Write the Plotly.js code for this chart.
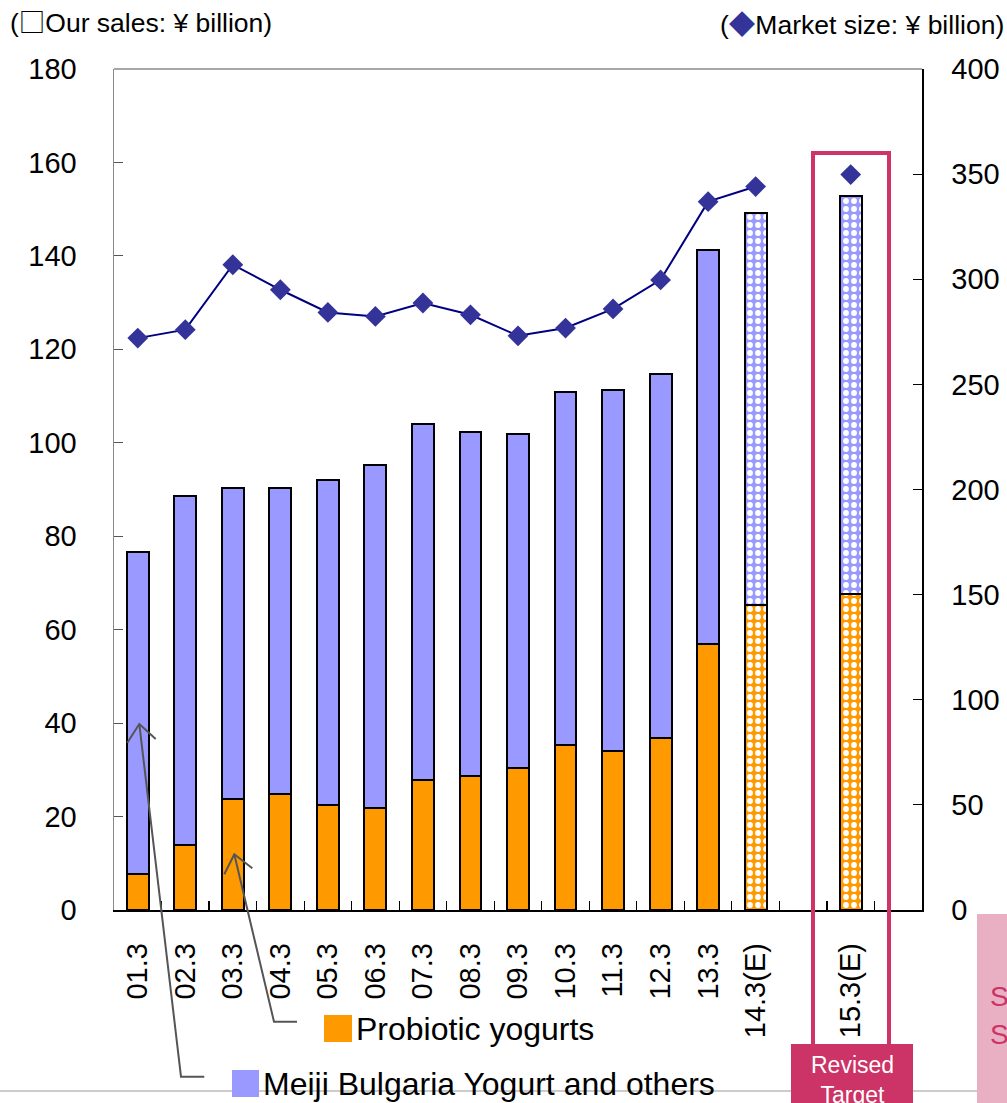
<!DOCTYPE html>
<html>
<head>
<meta charset="utf-8">
<script src="https://cdn.plot.ly/plotly-3.0.1.min.js"></script>
<style>html,body{margin:0;padding:0;background:#fff;}#chart{width:1007px;height:1103px;}</style>
</head>
<body>
<div id="chart"></div>
<script>
// ---- data ----
const categories = ['01.3','02.3','03.3','04.3','05.3','06.3','07.3','08.3','09.3','10.3','11.3','12.3','13.3','14.3(E)','15.3(E)'];
const axisSlots = ['01.3','02.3','03.3','04.3','05.3','06.3','07.3','08.3','09.3','10.3','11.3','12.3','13.3','14.3(E)',' ','15.3(E)','  '];
const probiotic = [7.7, 13.9, 23.8, 24.8, 22.5, 21.8, 27.8, 28.7, 30.4, 35.3, 34.0, 36.8, 57.0, 65.2, 67.7];
const bulgariaOthers = [69.0, 74.8, 66.6, 65.6, 69.6, 73.4, 76.2, 73.6, 71.5, 75.6, 77.3, 77.9, 84.3, 84.0, 85.2];
const marketSize = [272.0, 276.0, 306.9, 295.0, 284.2, 282.3, 288.7, 283.1, 273.1, 276.8, 285.9, 299.7, 336.9, 344.1, 349.8];
const isEstimate = [false,false,false,false,false,false,false,false,false,false,false,false,false,true,true];
const leftTicks = [0,20,40,60,80,100,120,140,160,180];
const rightTicks = [0,50,100,150,200,250,300,350,400];

// ---- styling ----
const FONT = '"Liberation Sans", Arial, Helvetica, sans-serif';
const CJK = "'Noto Sans CJK JP'";
const ORANGE = '#FF9900', LAV = '#9999FF', NAVY = '#000080', MARK = '#333399', MAG = '#CF3468';
const W = 1007, H = 1103, L = 114, R = 922, T = 69, B = 910;
const px = x => (x - L) / (R - L);
const py = y => (B - y) / (B - T);

const patShape = isEstimate.map(e => e ? '.' : '');

const traces = [
  {
    type: 'bar', x: categories, y: probiotic, name: 'Probiotic yogurts', width: 0.46,
    marker: { color: ORANGE, line: { color: '#000', width: 2 },
      pattern: { shape: patShape, fgcolor: '#ffffff', bgcolor: ORANGE, size: 8, solidity: 0.42, fillmode: 'replace' } },
    showlegend: false, hoverinfo: 'x+y'
  },
  {
    type: 'bar', x: categories, y: bulgariaOthers, name: 'Meiji Bulgaria Yogurt and others', width: 0.46,
    marker: { color: LAV, line: { color: '#000', width: 2 },
      pattern: { shape: patShape, fgcolor: '#ffffff', bgcolor: LAV, size: 8, solidity: 0.42, fillmode: 'replace' } },
    showlegend: false, hoverinfo: 'x+y'
  },
  {
    type: 'scatter', mode: 'lines+markers', x: categories.slice(0, 14), y: marketSize.slice(0, 14), yaxis: 'y2',
    line: { color: NAVY, width: 2 }, marker: { symbol: 'diamond', size: 16, color: MARK },
    showlegend: false, cliponaxis: false
  },
  {
    type: 'scatter', mode: 'markers', x: categories.slice(14), y: marketSize.slice(14), yaxis: 'y2',
    marker: { symbol: 'diamond', size: 16, color: MARK }, showlegend: false, cliponaxis: false
  }
];

const gray = '#555555';
const shapes = [
  { type: 'line', xref: 'paper', yref: 'paper', x0: 0, x1: 1, y0: 1, y1: 1, line: { color: '#8a8a8a', width: 1.5 } },
  { type: 'line', xref: 'paper', yref: 'paper', x0: px(0), x1: px(1007), y0: py(1091), y1: py(1091), line: { color: '#cccccc', width: 2 }, layer: 'below' },
  { type: 'rect', xref: 'paper', yref: 'paper', x0: px(324), x1: px(352), y0: py(1042), y1: py(1015), fillcolor: ORANGE, line: { width: 0 } },
  { type: 'rect', xref: 'paper', yref: 'paper', x0: px(232), x1: px(259), y0: py(1097), y1: py(1070), fillcolor: LAV, line: { width: 0 } },
  { type: 'path', xref: 'paper', yref: 'paper', line: { color: gray, width: 2 },
    path: `M ${px(297)} ${py(1021.7)} L ${px(274)} ${py(1021.7)} L ${px(234.3)} ${py(854.3)}` },
  { type: 'path', xref: 'paper', yref: 'paper', line: { color: gray, width: 2 },
    path: `M ${px(224.3)} ${py(874.3)} L ${px(234.3)} ${py(854.3)} L ${px(252.3)} ${py(868.3)}` },
  { type: 'path', xref: 'paper', yref: 'paper', line: { color: gray, width: 2 },
    path: `M ${px(204.3)} ${py(1076.7)} L ${px(181)} ${py(1076.7)} L ${px(139.3)} ${py(724)}` },
  { type: 'path', xref: 'paper', yref: 'paper', line: { color: gray, width: 2 },
    path: `M ${px(127.3)} ${py(742.7)} L ${px(139.3)} ${py(724)} L ${px(155.7)} ${py(739)}` },
  { type: 'rect', xref: 'paper', yref: 'paper', x0: px(813), x1: px(889), y0: py(1046), y1: py(153), line: { color: MAG, width: 4 }, fillcolor: 'rgba(0,0,0,0)' },
  { type: 'rect', xref: 'paper', yref: 'paper', x0: px(791), x1: px(913), y0: py(1110), y1: py(1044), line: { width: 0 }, fillcolor: '#CC3366' },
  { type: 'rect', xref: 'paper', yref: 'paper', x0: px(977), x1: px(1012), y0: py(1110), y1: py(914), line: { width: 0 }, fillcolor: '#E9AFC2' }
];

const annotations = [
  { xref: 'paper', yref: 'paper', x: px(8), y: py(20), xanchor: 'left', yanchor: 'middle', showarrow: false,
    text: `(<span style="font-family:${CJK}">□</span>Our sales: ¥ billion)`, font: { family: FONT, size: 26.5, color: '#000' } },
  { xref: 'paper', yref: 'paper', x: px(1006), y: py(22), xanchor: 'right', yanchor: 'middle', showarrow: false,
    text: `(<span style="color:#333399;font-family:${CJK}">◆</span>Market size: ¥ billion)`, font: { family: FONT, size: 26.5, color: '#000' } },
  { xref: 'paper', yref: 'paper', x: px(354), y: py(1029), xanchor: 'left', yanchor: 'middle', showarrow: false,
    text: 'Probiotic yogurts', font: { family: FONT, size: 32, color: '#000' } },
  { xref: 'paper', yref: 'paper', x: px(261), y: py(1084), xanchor: 'left', yanchor: 'middle', showarrow: false,
    text: 'Meiji Bulgaria Yogurt and others', font: { family: FONT, size: 32, color: '#000' } },
  { xref: 'paper', yref: 'paper', x: px(852), y: py(1050), xanchor: 'center', yanchor: 'top', showarrow: false,
    text: 'Revised<br>Target', font: { family: FONT, size: 23, color: '#fff' } },
  { xref: 'paper', yref: 'paper', x: px(988), y: py(996), xanchor: 'left', yanchor: 'middle', showarrow: false,
    text: 'S', font: { family: FONT, size: 28, color: '#CC3366' } },
  { xref: 'paper', yref: 'paper', x: px(988), y: py(1034), xanchor: 'left', yanchor: 'middle', showarrow: false,
    text: 'S', font: { family: FONT, size: 28, color: '#CC3366' } }
];

const layout = {
  width: W, height: H,
  margin: { l: L, r: W - R, t: T, b: H - B, pad: 0 },
  paper_bgcolor: '#fff', plot_bgcolor: '#fff',
  font: { family: FONT, size: 28, color: '#000' },
  barmode: 'stack', bargap: 0.54,
  showlegend: false,
  xaxis: {
    type: 'category', categoryorder: 'array', categoryarray: axisSlots, range: [-0.5, 16.5],
    showgrid: false, zeroline: false, showline: true, linecolor: '#000', linewidth: 1.5,
    ticks: 'inside', ticklen: 9, tickcolor: '#000', tickwidth: 1.2, tickson: 'boundaries',
    tickangle: -90, tickfont: { family: FONT, size: 29, color: '#000' }, ticklabelstandoff: 20,
    fixedrange: true
  },
  yaxis: {
    range: [0, 180], tickvals: leftTicks, ticktext: leftTicks.map(String),
    showgrid: false, zeroline: false, showline: true, linecolor: '#8a8a8a', linewidth: 1.5,
    ticks: 'inside', ticklen: 9, tickcolor: '#555', tickwidth: 1.2,
    tickfont: { family: FONT, size: 29, color: '#000' }, ticklabelstandoff: 30, fixedrange: true
  },
  yaxis2: {
    overlaying: 'y', side: 'right', range: [0, 400], tickvals: rightTicks, ticktext: rightTicks.map(String),
    showgrid: false, zeroline: false, showline: true, linecolor: '#000', linewidth: 1.5,
    ticks: 'inside', ticklen: 9, tickcolor: '#000', tickwidth: 1.2,
    tickfont: { family: FONT, size: 29, color: '#000' }, ticklabelstandoff: 22, fixedrange: true
  },
  shapes: shapes,
  annotations: annotations
};

Plotly.newPlot('chart', traces, layout, { displayModeBar: false, staticPlot: true });
</script>
</body>
</html>
